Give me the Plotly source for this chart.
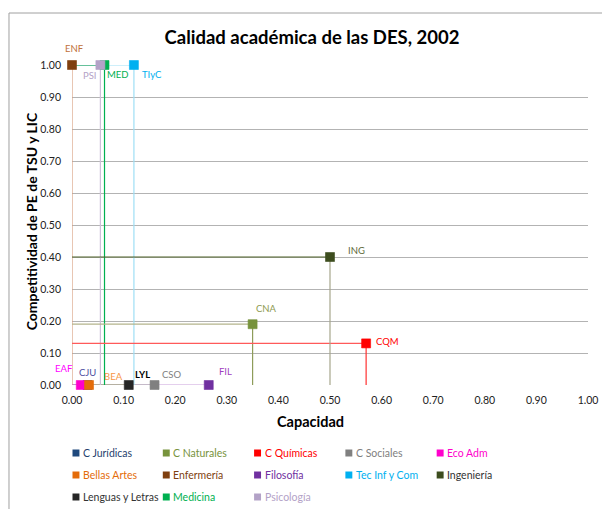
import plotly.graph_objects as go

# ---------------- data ----------------
CODES = ["CJU", "CNA", "CQM", "CSO", "EAF", "BEA", "ENF", "FIL", "TIyC", "ING", "LYL", "MED", "PSI"]
NAMES = ["C Jurídicas", "C Naturales", "C Químicas", "C Sociales", "Eco Adm",
         "Bellas Artes", "Enfermería", "Filosofía", "Tec Inf y Com", "Ingeniería",
         "Lenguas y Letras", "Medicina", "Psicología"]
CAPACIDAD = [0.03, 0.35, 0.57, 0.16, 0.017, 0.033, 0.00, 0.265, 0.12, 0.50, 0.11, 0.063, 0.055]
COMPETITIVIDAD = [0.00, 0.19, 0.13, 0.00, 0.00, 0.00, 1.00, 0.00, 1.00, 0.40, 0.00, 1.00, 1.00]
TICKS = [0.0, 0.1, 0.2, 0.3, 0.4, 0.5, 0.6, 0.7, 0.8, 0.9, 1.0]
TICK_LABELS = ["0.00", "0.10", "0.20", "0.30", "0.40", "0.50", "0.60", "0.70", "0.80", "0.90", "1.00"]
TITLE = "Calidad académica de las DES, 2002"
X_TITLE = "Capacidad"
Y_TITLE = "Competitividad de PE de TSU y LIC"

# ---------------- styles ----------------
FONT = "Lato, Carlito, Calibri, sans-serif"
MARKER_COLORS = {"CJU": "#1F497D", "CNA": "#77933C", "CQM": "#FF0000", "CSO": "#808080",
                 "EAF": "#FF00CC", "BEA": "#E46C0A", "ENF": "#7F3F0F", "FIL": "#7030A0",
                 "TIyC": "#00B0F0", "ING": "#3D4D1E", "LYL": "#262626", "MED": "#00B050",
                 "PSI": "#B3A2C7"}
LINE_H = {"CJU": "#A0A0D8", "CNA": "#B4B48C", "CQM": "#FF5A5A", "CSO": "#A6A6A6",
          "EAF": "#FF66E0", "BEA": "#F5A060", "ENF": "#D9A080", "FIL": "#C9A0DC",
          "TIyC": "#9EDFF5", "ING": "#4F6228", "LYL": "#A6A67C", "MED": "#00B050",
          "PSI": "#CCC0DA"}
LINE_V = dict(LINE_H, CNA="#8E9C5A", ING="#A6A68C", CQM="#FF3030")
LABEL_COLORS = {"CJU": "#4B4BA0", "CNA": "#8E9A50", "CQM": "#FF0000", "CSO": "#808080",
                "EAF": "#FF00FF", "BEA": "#F79646", "ENF": "#C0713A", "FIL": "#A040C0",
                "TIyC": "#00B0F0", "ING": "#5F6B3A", "LYL": "#000000", "MED": "#00B050",
                "PSI": "#B3A2C7"}
LEGEND_TEXT_COLORS = dict(MARKER_COLORS, CJU="#1F3F6D", ING="#333333", LYL="#333333")
LABEL_SHIFT = {"CJU": (0, 13), "CNA": (14, 16), "CQM": (21, 2), "CSO": (17, 11),
               "EAF": (-17, 17), "BEA": (24, 9), "ENF": (2, 17), "FIL": (17, 14),
               "TIyC": (18, -9), "ING": (26, 7), "LYL": (14, 11), "MED": (13, -9),
               "PSI": (-10, -10)}
LINE_ORDER = ["FIL", "CSO", "LYL", "BEA", "EAF", "CJU", "TIyC", "PSI", "MED", "ENF",
              "CNA", "CQM", "ING"]
LEGEND_COLS = [76, 167, 259, 351, 443]   # page px (square centres)
LEGEND_ROWS = [453, 475, 497]            # page px

OFF = 8                      # default page body margin
W, H = 610 - OFF, 509 - OFF
PLOT_L, PLOT_R, PLOT_T, PLOT_B = 72, 592, 65, 385   # page px of plot area
L, T = PLOT_L - OFF, PLOT_T - OFF
R, B = W - (PLOT_R - OFF), H - (PLOT_B - OFF)
PW, PH = PLOT_R - PLOT_L, PLOT_B - PLOT_T


def px_x(px):
    return (px - PLOT_L) / PW


def px_y(py):
    return (PLOT_B - py) / PH


idx = {c: i for i, c in enumerate(CODES)}
fig = go.Figure()

# drop lines (horizontal to y axis, vertical to x axis)
for c in LINE_ORDER:
    i = idx[c]
    xv, yv = CAPACIDAD[i], COMPETITIVIDAD[i]
    fig.add_trace(go.Scatter(x=[0, xv], y=[yv, yv], mode="lines",
                             line=dict(color=LINE_H[c], width=1.2),
                             hoverinfo="skip", showlegend=False, cliponaxis=False))
    fig.add_trace(go.Scatter(x=[xv, xv], y=[yv, 0], mode="lines",
                             line=dict(color=LINE_V[c], width=1.2),
                             hoverinfo="skip", showlegend=False, cliponaxis=False))

# markers
for i, c in enumerate(CODES):
    fig.add_trace(go.Scatter(x=[CAPACIDAD[i]], y=[COMPETITIVIDAD[i]], mode="markers",
                             name=NAMES[i], showlegend=False, cliponaxis=False,
                             marker=dict(symbol="square", size=9, color=MARKER_COLORS[c],
                                         line=dict(width=0.6, color=MARKER_COLORS[c]))))

annotations = []
# data labels
for i, c in enumerate(CODES):
    dx, dy = LABEL_SHIFT[c]
    txt = f"<b>{c}</b>" if c == "LYL" else c
    annotations.append(dict(x=CAPACIDAD[i], y=COMPETITIVIDAD[i], xref="x", yref="y",
                            xanchor="center", yanchor="middle",
                            text=txt, showarrow=False, xshift=dx, yshift=dy,
                            font=dict(family=FONT, size=9.5, color=LABEL_COLORS[c])))

# axis titles
annotations.append(dict(x=px_x(312), y=px_y(421), xref="paper", yref="paper",
                        xanchor="center", yanchor="middle",
                        text=X_TITLE, showarrow=False,
                        font=dict(family=FONT, size=14.5, color="#000000", weight="bold")))
annotations.append(dict(x=px_x(31), y=px_y(221), xref="paper", yref="paper",
                        xanchor="center", yanchor="middle",
                        text=Y_TITLE, showarrow=False, textangle=-90,
                        font=dict(family=FONT, size=14, color="#000000", weight="bold")))

# legend (custom, built from the lists)
shapes = []
for k, c in enumerate(CODES):
    col, row = k % 5, k // 5
    cx, cy = LEGEND_COLS[col], LEGEND_ROWS[row]
    shapes.append(dict(type="rect", xref="paper", yref="paper",
                       x0=px_x(cx - 3.5), x1=px_x(cx + 3.5), y0=px_y(cy + 3.5), y1=px_y(cy - 3.5),
                       fillcolor=MARKER_COLORS[c], line=dict(width=0)))
    annotations.append(dict(x=px_x(cx + 5), y=px_y(cy), xref="paper", yref="paper",
                            xanchor="left", yanchor="middle", text=NAMES[k], showarrow=False,
                            font=dict(family=FONT, size=10.5, color=LEGEND_TEXT_COLORS[c])))

# chart frame
shapes.append(dict(type="rect", xref="paper", yref="paper", layer="below",
                   x0=px_x(OFF + 0.5), x1=px_x(640), y0=px_y(540), y1=px_y(13),
                   line=dict(color="#A0A0A0", width=1), fillcolor="rgba(0,0,0,0)"))

fig.update_layout(
    width=W, height=H,
    margin=dict(l=L, r=R, t=T, b=B),
    paper_bgcolor="white", plot_bgcolor="white",
    font=dict(family=FONT, size=10, color="#222222"),
    title=dict(text=TITLE, x=(312 - OFF) / W, xref="container", xanchor="center",
               y=1 - (38 - OFF) / H, yref="container", yanchor="middle",
               font=dict(family=FONT, size=18.5, color="#000000", weight="bold")),
    xaxis=dict(range=[0, 1], tickvals=TICKS, ticktext=TICK_LABELS, showgrid=False,
               zeroline=False, showline=False, ticks="", ticklabelstandoff=7,
               tickfont=dict(family=FONT, size=10.5, color="#222222"), fixedrange=True),
    yaxis=dict(range=[0, 1], tickvals=TICKS, ticktext=TICK_LABELS, showgrid=True,
               gridcolor="#B3B3B3", gridwidth=1, zeroline=False, showline=False,
               ticks="", ticklabelstandoff=10,
               tickfont=dict(family=FONT, size=10.5, color="#222222"), fixedrange=True),
    annotations=annotations,
    shapes=shapes,
    showlegend=False,
)

fig.write_html("out.html")
